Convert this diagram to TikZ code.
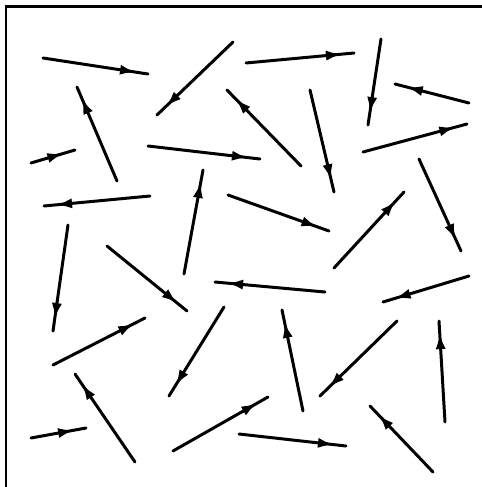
\documentclass[tikz,border=0pt]{standalone}
\usepackage{tikz}
\usetikzlibrary{arrows.meta,decorations.markings}

\begin{document}
\begin{tikzpicture}[x=0.02cm,y=-0.02cm]
 \tikzstyle{vec}=[line width=1.7pt,line cap=round,postaction={decorate},
   decoration={markings,mark=at position -7pt with
     {\arrow{Latex[length=9pt,width=5.8pt]}}}]
 \tikzstyle{frame}=[line width=1.3pt]
 \useasboundingbox (0,0) rectangle (482,487);
 % frame, cut at the right and bottom
 \draw[frame] (6,487) -- (6,6.5) -- (482,6.5);
 % top rows
 \draw[vec] (43,58) -- (148,74);
 \draw[vec] (233,42) -- (157,115);
 \draw[vec] (246,63) -- (354,53);
 \draw[vec] (381,39) -- (368,125);
 \draw[vec] (469,103) -- (395,84);
 \draw[vec] (117,181) -- (77,87);
 \draw[vec] (31,163) -- (75,150);
 \draw[vec] (148,146) -- (260,159);
 \draw[vec] (301,166) -- (227,90);
 \draw[vec] (310,90) -- (334,192);
 \draw[vec] (363,152) -- (467,124);
 % middle rows
 \draw[vec] (150,196) -- (44,206);
 \draw[vec] (228,195) -- (329,231);
 \draw[vec] (184,274) -- (203,170);
 \draw[vec] (334,268) -- (404,192);
 \draw[vec] (419,159) -- (461,251);
 \draw[vec] (68,225) -- (53,331);
 \draw[vec] (107,246) -- (187,311);
 \draw[vec] (325,292) -- (215,282);
 \draw[vec] (469,276) -- (383,302);
 % bottom rows
 \draw[vec] (53,365) -- (145,318);
 \draw[vec] (224,307) -- (169,396);
 \draw[vec] (303,411) -- (282,310);
 \draw[vec] (397,321) -- (320,396);
 \draw[vec] (445,422) -- (439,321);
 \draw[vec] (135,462) -- (75,374);
 \draw[vec] (31,438) -- (86,428);
 \draw[vec] (173,451) -- (268,397);
 \draw[vec] (239,434) -- (346,446);
 \draw[vec] (433,472) -- (370,406);
\end{tikzpicture}
\end{document}
